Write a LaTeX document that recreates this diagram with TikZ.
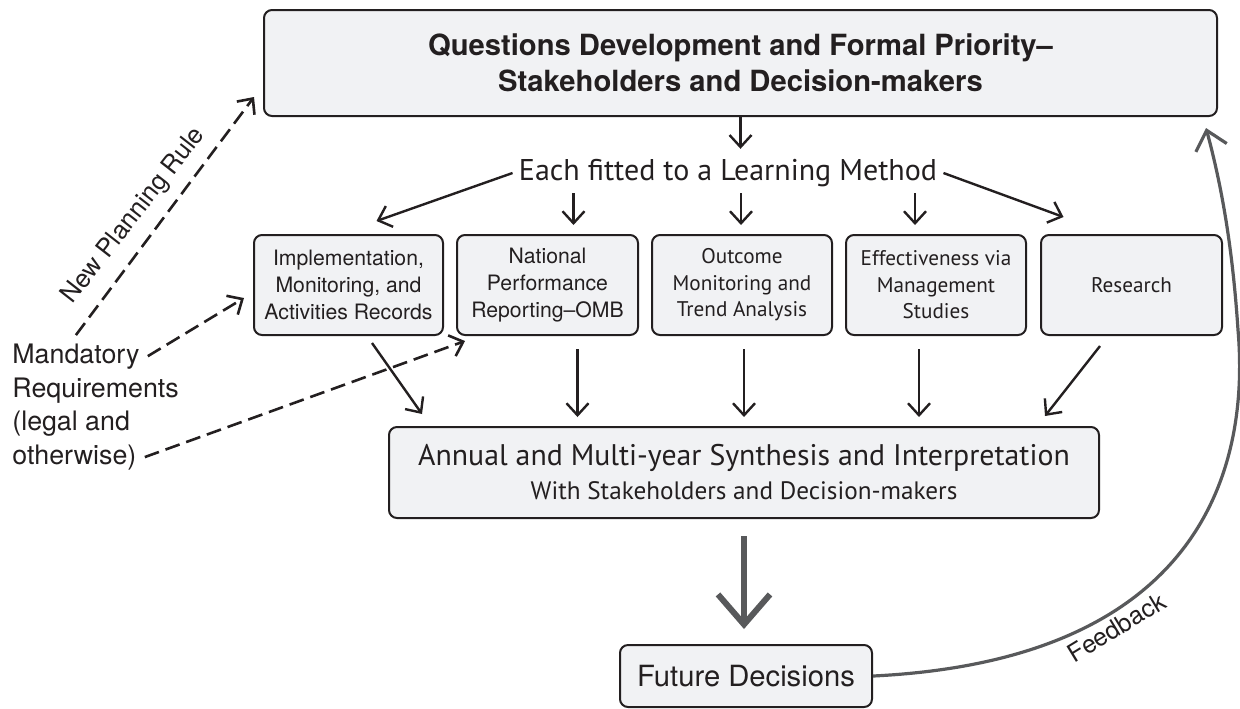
\documentclass[tikz,border=0pt]{standalone}
\usepackage{fontspec}
\setmainfont{TeX Gyre Heros}
\newfontfamily\myriad{PT Sans}
\usetikzlibrary{arrows.meta,positioning}
\definecolor{boxfill}{HTML}{F1F2F4}
\definecolor{ink}{HTML}{231F20}
\definecolor{loopgrey}{HTML}{58595B}

\begin{document}
\begin{tikzpicture}[x=0.5pt,y=-0.5pt,color=ink]
\tikzstyle{box}=[draw=ink,fill=boxfill,line width=1pt,rounded corners=4pt,
align=center,inner sep=2pt]
\tikzstyle{smallbox}=[box,minimum height=50pt,font=\fontsize{10.6}{13.3}\selectfont]
\tikzstyle{mybox}=[smallbox,font=\myriad\fontsize{10.6}{13.3}\selectfont]
\tikzstyle{arr}=[-{Straight Barb[length=6pt,width=11pt]},line width=1.2pt]
\tikzstyle{dasharr}=[arr,dash pattern=on 7.5pt off 3.5pt,line width=1.3pt]
\tikzstyle{bigarr}=[-{Straight Barb[length=15pt,width=26pt]},line width=3pt,draw=loopgrey]
\tikzstyle{looparr}=[-{Straight Barb[length=9pt,width=16pt]},line width=1.6pt,draw=loopgrey]
\tikzstyle{side}=[anchor=base west,inner sep=1pt,font=\fontsize{13.4}{15}\selectfont]
\useasboundingbox (0,0) rectangle (1240,708);

\node[box,minimum width=476.5pt,minimum height=53pt,
font=\fontsize{14.6}{18}\selectfont\bfseries] (top) at (740.5,63)
{Questions Development and Formal Priority--\\Stakeholders and Decision-makers};
\node[inner sep=3pt,font=\myriad\fontsize{15}{17}\selectfont] (fit) at (728,173)
{Each fitted to a Learning Method};

\node[smallbox,minimum width=94.5pt] (b1) at (348.5,285)
{Implementation,\\Monitoring, and\\Activities Records};
\node[smallbox,minimum width=90.5pt] (b2) at (547.5,285)
{National\\Performance\\Reporting--OMB};
\node[mybox,minimum width=90pt] (b3) at (742,285)
{Outcome\\Monitoring and\\Trend Analysis};
\node[mybox,minimum width=90pt] (b4) at (936,285)
{Effectiveness via\\Management\\Studies};
\node[mybox,minimum width=90.5pt] (b5) at (1131.5,285) {Research};

\node[box,minimum width=355pt,minimum height=45.5pt,
font=\myriad\fontsize{14.9}{17}\selectfont] (syn) at (744,472.5)
{Annual and Multi-year Synthesis and Interpretation\\
{\fontsize{12.6}{17}\selectfont With Stakeholders and Decision-makers}};
\node[box,minimum width=126pt,minimum height=31pt,
font=\fontsize{14.6}{16}\selectfont] (fut) at (746,676) {Future Decisions};

\node[side] (mand) at (10,363) {Mandatory};
\node[side] (req) at (10,397) {Requirements};
\node[side] (legal) at (10,430) {(legal and};
\node[side] (other) at (10,464) {otherwise)};

% learning methods
\draw[arr,shorten >=2pt] (top.south) -- (top.south |- fit.north);
\draw[arr] (fit.west) -- ([xshift=14pt,yshift=6.5pt]b1.north);
\draw[arr,shorten >=4.5pt] ([xshift=13pt]b2.north |- fit.south) -- ([xshift=13pt]b2.north);
\draw[arr,shorten >=4.5pt] ([xshift=-0.5pt]b3.north |- fit.south) -- ([xshift=-0.5pt]b3.north);
\draw[arr,shorten >=4.5pt] ([xshift=-10.5pt]b4.north |- fit.south) -- ([xshift=-10.5pt]b4.north);
\draw[arr] (fit.east) -- ([xshift=-34pt,yshift=8.5pt]b5.north);

% synthesis
\draw[arr] ([xshift=11.75pt,yshift=-3.5pt]b1.south) -- ([xshift=-161pt,yshift=6pt]syn.north);
\draw[arr,shorten <=6.5pt,shorten >=4.5pt] ([xshift=15pt]b2.south) -- ([xshift=15pt]b2.south |- syn.north);
\draw[arr,shorten <=6.5pt,shorten >=4.5pt] ([xshift=1pt]b3.south) -- ([xshift=1pt]b3.south |- syn.north);
\draw[arr,shorten <=6.5pt,shorten >=4.5pt] ([xshift=-8.5pt]b4.south) -- ([xshift=-8.5pt]b4.south |- syn.north);
\draw[arr] ([xshift=-15.75pt,yshift=-5pt]b5.south) -- ([xshift=150.5pt,yshift=5pt]syn.north);

\draw[bigarr,shorten <=8.5pt,shorten >=7.5pt] (syn.south) -- (syn.south |- fut.north);

% feedback loop
\draw[looparr] (fut.east) .. controls (1200,660) and (1250,470) ..
  node[pos=0.32,sloped,below,inner sep=2pt,text=ink,font=\fontsize{12.5}{14}\selectfont] (fb) {Feedback}
  (1238,330) .. controls (1232,240) and (1220,180) .. ([xshift=-6pt,yshift=-5.5pt]top.south east);

% outside requirements
\draw[dasharr] ([yshift=3pt]mand.north) -- ([xshift=-4.5pt,yshift=-17pt]top.west);
\node[rotate=52,font=\fontsize{12.7}{14}\selectfont] (npr) at (134,216) {New Planning Rule};
\draw[dasharr] ([xshift=3pt]mand.east) -- ([xshift=-4.5pt,yshift=-6.5pt]b1.west);
\draw[dasharr] ([xshift=3pt]other.east) -- ([xshift=4.5pt,yshift=-2.5pt]b2.south west);
\end{tikzpicture}
\end{document}
